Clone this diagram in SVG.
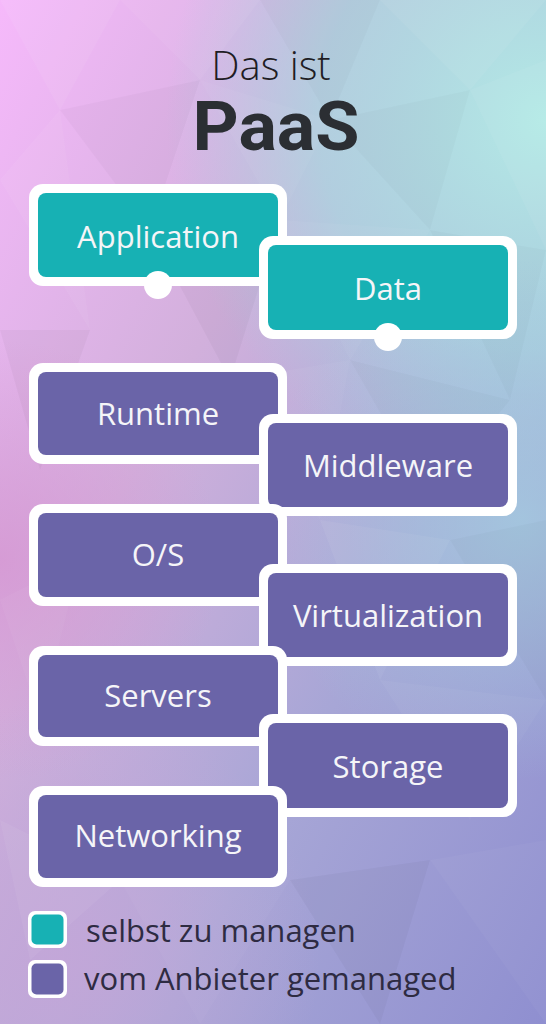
<svg xmlns="http://www.w3.org/2000/svg" width="546" height="1024" viewBox="0 0 546 1024">
  <defs>
    <linearGradient id="bgBase" x1="0" y1="0" x2="1" y2="1" gradientUnits="objectBoundingBox">
      <stop offset="0" stop-color="#f6b9fb"/>
      <stop offset="0.35" stop-color="#d2b0dc"/>
      <stop offset="0.65" stop-color="#a7a6d6"/>
      <stop offset="1" stop-color="#8f8fd0"/>
    </linearGradient>
    <radialGradient id="teal" cx="546" cy="120" r="380" gradientUnits="userSpaceOnUse">
      <stop offset="0" stop-color="#b4eae6" stop-opacity="1"/>
      <stop offset="0.6" stop-color="#a9d8e0" stop-opacity="0.75"/>
      <stop offset="1" stop-color="#a9d0e0" stop-opacity="0"/>
    </radialGradient>
    <radialGradient id="teal2" cx="520" cy="520" r="260" gradientUnits="userSpaceOnUse">
      <stop offset="0" stop-color="#a4cde0" stop-opacity="0.8"/>
      <stop offset="1" stop-color="#a4cde0" stop-opacity="0"/>
    </radialGradient>
    <radialGradient id="pinkL" cx="0" cy="560" r="220" gradientUnits="userSpaceOnUse">
      <stop offset="0" stop-color="#d596d2" stop-opacity="0.8"/>
      <stop offset="1" stop-color="#d596d2" stop-opacity="0"/>
    </radialGradient>
    <radialGradient id="lilacB" cx="60" cy="960" r="260" gradientUnits="userSpaceOnUse">
      <stop offset="0" stop-color="#c4a6d8" stop-opacity="0.85"/>
      <stop offset="1" stop-color="#c4a6d8" stop-opacity="0"/>
    </radialGradient>
    <style>
      .outer { fill: #ffffff; }
      .teal { fill: #17b1b4; }
      .purple { fill: #6a64a8; }
      .lbl { font-family: "Open Sans", "Liberation Sans", sans-serif; font-size: 31px; fill: #f5f5f8; text-anchor: middle; dominant-baseline: central; }
      .leg { font-family: "Open Sans", "Liberation Sans", sans-serif; font-size: 31px; fill: #2e2b42; dominant-baseline: central; }
      .dot { fill: #ffffff; }
      .poly { stroke: none; }
    </style>
  </defs>

  <!-- background -->
  <g id="background">
    <rect x="0" y="0" width="546" height="1024" fill="url(#bgBase)"/>
    <rect x="0" y="0" width="546" height="1024" fill="url(#teal)"/>
    <rect x="0" y="0" width="546" height="1024" fill="url(#teal2)"/>
    <rect x="0" y="0" width="546" height="1024" fill="url(#pinkL)"/>
    <rect x="0" y="0" width="546" height="1024" fill="url(#lilacB)"/>
    <g class="poly">
      <polygon points="0,0 120,0 60,110" fill="#ffffff" opacity="0.06"/>
      <polygon points="120,0 260,0 200,80" fill="#ffffff" opacity="0.05"/>
      <polygon points="60,110 200,80 150,230" fill="#000000" opacity="0.025"/>
      <polygon points="0,180 60,110 90,330" fill="#ffffff" opacity="0.05"/>
      <polygon points="260,0 380,0 330,120" fill="#000000" opacity="0.02"/>
      <polygon points="380,0 546,0 470,90" fill="#ffffff" opacity="0.06"/>
      <polygon points="200,80 330,120 280,220" fill="#ffffff" opacity="0.04"/>
      <polygon points="330,120 470,90 430,230" fill="#000000" opacity="0.02"/>
      <polygon points="470,90 546,60 546,250" fill="#ffffff" opacity="0.05"/>
      <polygon points="150,230 280,220 230,380" fill="#000000" opacity="0.03"/>
      <polygon points="280,220 430,230 350,360" fill="#ffffff" opacity="0.04"/>
      <polygon points="430,230 546,250 510,400" fill="#000000" opacity="0.02"/>
      <polygon points="0,330 90,330 40,470" fill="#000000" opacity="0.03"/>
      <polygon points="230,380 350,360 320,520" fill="#ffffff" opacity="0.04"/>
      <polygon points="350,360 510,400 430,500" fill="#000000" opacity="0.02"/>
      <polygon points="0,600 80,560 40,720" fill="#ffffff" opacity="0.04"/>
      <polygon points="320,520 450,540 380,680" fill="#ffffff" opacity="0.05"/>
      <polygon points="450,540 546,520 546,700" fill="#000000" opacity="0.02"/>
      <polygon points="380,680 546,700 470,820" fill="#ffffff" opacity="0.04"/>
      <polygon points="0,820 120,880 30,960" fill="#ffffff" opacity="0.05"/>
      <polygon points="290,880 430,860 380,1024" fill="#000000" opacity="0.03"/>
      <polygon points="430,860 546,840 546,1024" fill="#ffffff" opacity="0.03"/>
      <polygon points="120,880 290,880 200,1024" fill="#ffffff" opacity="0.03"/>
    </g>
  </g>

  <!-- title -->
  <g id="title">
    <text x="271" y="80" font-family="'Open Sans', 'Liberation Sans', sans-serif" font-weight="300" font-size="40" fill="#1f1d24" text-anchor="middle">Das ist</text>
    <text x="276" y="150" font-family="Roboto, 'Liberation Sans', sans-serif" font-weight="700" font-size="68" fill="#2b2e33" text-anchor="middle" textLength="167" lengthAdjust="spacingAndGlyphs">PaaS</text>
  </g>

  <!-- nodes -->
  <g id="node-application">
    <rect class="outer" x="29" y="184" width="258" height="102" rx="14"/>
    <rect class="teal" x="38" y="193" width="240" height="84" rx="8"/>
    <text class="lbl" x="158" y="236">Application</text>
  </g>
  <g id="node-data">
    <rect class="outer" x="259" y="236" width="258" height="103" rx="14"/>
    <rect class="teal" x="268" y="245" width="240" height="85" rx="8"/>
    <text class="lbl" x="388" y="288">Data</text>
  </g>
  <g id="node-runtime">
    <rect class="outer" x="29" y="363" width="258" height="101" rx="14"/>
    <rect class="purple" x="38" y="372" width="240" height="83" rx="8"/>
    <text class="lbl" x="158" y="413">Runtime</text>
  </g>
  <g id="node-middleware">
    <rect class="outer" x="259" y="414" width="258" height="102" rx="14"/>
    <rect class="purple" x="268" y="423" width="240" height="84" rx="8"/>
    <text class="lbl" x="388" y="465">Middleware</text>
  </g>
  <g id="node-os">
    <rect class="outer" x="29" y="504" width="258" height="102" rx="14"/>
    <rect class="purple" x="38" y="513" width="240" height="84" rx="8"/>
    <text class="lbl" x="158" y="554">O/S</text>
  </g>
  <g id="node-virtualization">
    <rect class="outer" x="259" y="564" width="258" height="102" rx="14"/>
    <rect class="purple" x="268" y="573" width="240" height="84" rx="8"/>
    <text class="lbl" x="388" y="615">Virtualization</text>
  </g>
  <g id="node-servers">
    <rect class="outer" x="29" y="646" width="258" height="100" rx="14"/>
    <rect class="purple" x="38" y="655" width="240" height="82" rx="8"/>
    <text class="lbl" x="158" y="695">Servers</text>
  </g>
  <g id="node-storage">
    <rect class="outer" x="259" y="714" width="258" height="103" rx="14"/>
    <rect class="purple" x="268" y="723" width="240" height="85" rx="8"/>
    <text class="lbl" x="388" y="766">Storage</text>
  </g>
  <g id="node-networking">
    <rect class="outer" x="29" y="786" width="258" height="101" rx="14"/>
    <rect class="purple" x="38" y="795" width="240" height="83" rx="8"/>
    <text class="lbl" x="158" y="835">Networking</text>
  </g>

  <!-- connectors (connection dots) -->
  <g id="connectors">
    <circle class="dot" cx="158" cy="285" r="14"/>
    <circle class="dot" cx="388" cy="337" r="14"/>
  </g>

  <!-- legend -->
  <g id="legend">
    <rect class="outer" x="28" y="911" width="39" height="37" rx="7"/>
    <rect class="teal" x="31.5" y="914.5" width="32" height="30" rx="5"/>
    <text class="leg" x="86" y="930">selbst zu managen</text>
    <rect class="outer" x="28" y="960" width="39" height="38" rx="7"/>
    <rect class="purple" x="31.5" y="963.5" width="32" height="31" rx="5"/>
    <text class="leg" x="84" y="978">vom Anbieter gemanaged</text>
  </g>
</svg>
